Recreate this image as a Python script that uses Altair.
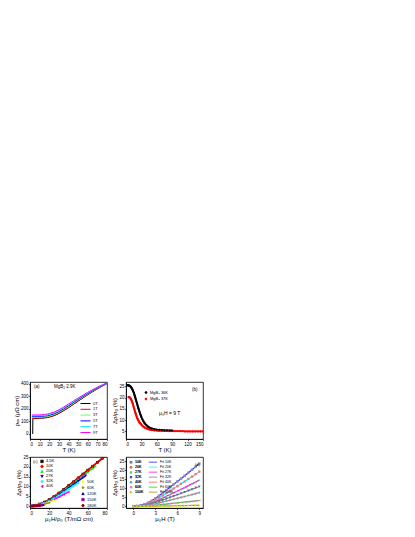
import altair as alt
import pandas as pd

FONT = "Liberation Sans"

# ---------------- panel (a): rho_xx vs T ----------------
a_fields = ["0T", "1T", "3T", "5T", "7T", "9T"]
a_colors = ["#000000", "#ff0000", "#66ff66", "#0000ff", "#00e5ff", "#ff00ff"]
a_widths = [1.0, 1.0, 2.0, 1.0, 1.0, 1.0]
a_xticks = [0, 10, 20, 30, 40, 50, 60, 70, 80]
a_yticks = [0, 100, 200, 300, 400]
a_T_0T = [2.8, 3, 5, 8, 10, 12, 15, 18, 20, 25, 30, 35, 40, 45, 50, 55, 60, 65, 70, 75, 80]
a_T = [2, 5, 8, 10, 12, 15, 18, 20, 25, 30, 35, 40, 45, 50, 55, 60, 65, 70, 75, 80]
a_rho_0T = [0, 124, 124, 124, 125, 126, 128, 131, 134, 146, 164, 186, 210, 236, 262, 288, 313, 337, 360, 382, 403]
a_rho_1T = [127, 127, 127, 128, 129, 131, 134, 137, 149, 167, 189, 213, 239, 265, 290, 315, 339, 362, 384, 404]
a_rho_3T = [133, 133, 133, 134, 135, 137, 140, 143, 155, 173, 195, 219, 244, 270, 295, 319, 342, 365, 386, 405]
a_rho_5T = [139, 139, 139, 140, 141, 143, 146, 149, 161, 179, 201, 225, 250, 275, 300, 323, 346, 368, 388, 406]
a_rho_7T = [145, 145, 145, 146, 147, 149, 152, 156, 168, 186, 208, 232, 256, 281, 305, 328, 350, 371, 390, 407]
a_rho_9T = [152, 152, 152, 153, 154, 156, 159, 163, 175, 193, 215, 239, 263, 287, 310, 333, 354, 374, 392, 408]

# ---------------- panel (b): MR at 9 T vs T ----------------
b_labels = ["MgB\u2082 36K", "MgB\u2082 37K"]
b_colors = ["#000000", "#ff0000"]
b_xticks = [0, 30, 60, 90, 120, 150]
b_yticks = [5, 10, 15, 20, 25]
b_T_36 = [2, 3, 4, 5, 6, 7, 8, 9, 10, 11, 12, 13, 14, 15, 16, 17, 18, 19, 20, 21, 22, 23, 24, 25, 26, 27, 28, 29, 30,
          32, 34, 36, 38, 40, 43, 46, 50, 55, 60, 65, 70, 75, 80, 85, 90]
b_mr_36 = [25.6, 25.6, 25.5, 25.5, 25.4, 25.3, 25.1, 24.9, 24.6, 24.3, 23.9, 23.4, 22.9, 22.3, 21.6, 20.9, 20.1, 19.3,
           18.5, 17.7, 16.9, 16.1, 15.3, 14.6, 13.9, 13.2, 12.5, 11.9, 11.3, 10.3, 9.4, 8.7, 8.1, 7.6, 7.0, 6.6, 6.2,
           5.9, 5.7, 5.6, 5.5, 5.4, 5.4, 5.3, 5.3]
b_T_37 = [5, 6, 7, 8, 9, 10, 11, 12, 13, 14, 15, 16, 17, 18, 19, 20, 21, 22, 23, 24, 25, 26, 27, 28, 29, 30,
          32, 34, 36, 38, 40, 43, 46, 50, 55, 60, 65, 70, 75, 80, 85, 90, 95, 100, 105, 110, 115, 120, 125, 130,
          135, 140, 145, 150]
b_mr_37 = [20.2, 20.2, 20.1, 19.9, 19.6, 19.2, 18.7, 18.1, 17.4, 16.6, 15.8, 15.0, 14.2, 13.4, 12.7, 12.0, 11.4, 10.8,
           10.3, 9.8, 9.4, 9.0, 8.7, 8.4, 8.1, 7.9, 7.4, 7.0, 6.7, 6.4, 6.2, 5.9, 5.7, 5.5, 5.4, 5.3, 5.2, 5.2, 5.1,
           5.1, 5.0, 5.0, 5.0, 5.0, 5.0, 5.0, 4.9, 4.9, 4.9, 4.9, 4.9, 4.9, 4.9, 4.9]

# ---------------- panel (c): Kohler plot ----------------
c_labels1 = ["4.5K", "10K", "20K", "27K", "32K", "40K"]
c_colors1 = ["#000000", "#ff0000", "#22dd22", "#0000ff", "#00ffff", "#ff00ff"]
c_shapes1 = ["square", "circle", "triangle-up", "triangle-down", "diamond", "triangle-left"]
c_labels2 = ["50K", "60K", "120K", "150K", "180K"]
c_colors2 = ["#ffff00", "#999900", "#000099", "#990099", "#990000"]
c_shapes2 = ["triangle-right", "diamond", "triangle-up", "square", "circle"]
c_xticks = [0, 20, 40, 60, 80]
c_yticks = [0, 5, 10, 15, 20, 25]
c_x_4p5 = [0, 3, 6, 10, 15, 20, 25, 30, 35, 40, 45, 50, 55, 60, 65, 70, 75, 78]
c_y_4p5 = [0, 0.1, 0.4, 1.0, 2.0, 3.3, 4.9, 6.6, 8.5, 10.4, 12.3, 14.3, 16.3, 18.3, 20.3, 22.3, 24.3, 25.4]
c_x_10 = [0, 3, 6, 10, 15, 20, 25, 30, 35, 40, 45, 50, 55, 60, 65, 70, 75, 78]
c_y_10 = [0, 0.1, 0.4, 1.0, 2.0, 3.3, 4.9, 6.6, 8.4, 10.3, 12.2, 14.2, 16.2, 18.2, 20.2, 22.2, 24.2, 25.3]
c_x_20 = [0, 3, 6, 10, 15, 20, 25, 30, 35, 40, 45, 50, 55, 60, 65, 68]
c_y_20 = [0, 0.1, 0.4, 0.9, 1.9, 3.1, 4.6, 6.2, 8.0, 9.8, 11.6, 13.5, 15.4, 17.3, 19.2, 20.3]
c_x_27 = [0, 3, 6, 10, 15, 20, 25, 30, 35, 40, 45, 50, 55, 58]
c_y_27 = [0, 0.1, 0.3, 0.9, 1.8, 2.9, 4.3, 5.8, 7.5, 9.2, 10.9, 12.7, 14.5, 15.5]
c_x_32 = [0, 3, 6, 10, 15, 20, 25, 30, 35, 40, 45, 50]
c_y_32 = [0, 0.1, 0.3, 0.8, 1.6, 2.7, 4.0, 5.4, 7.0, 8.6, 10.2, 11.8]
c_x_40 = [0, 3, 6, 10, 15, 20, 25, 30, 35, 40]
c_y_40 = [0, 0.1, 0.3, 0.7, 1.4, 2.3, 3.4, 4.6, 5.9, 7.2]
c_x_50 = [0, 3, 6, 10, 15, 20, 25]
c_y_50 = [0, 0.1, 0.2, 0.6, 1.2, 2.0, 2.9]
c_x_60 = [0, 3, 6, 10, 15, 20]
c_y_60 = [0, 0.1, 0.2, 0.5, 1.0, 1.7]
c_x_120 = [0, 3, 6, 10, 14]
c_y_120 = [0, 0.05, 0.15, 0.35, 0.6]
c_x_150 = [0, 3, 6, 9, 12]
c_y_150 = [0, 0.04, 0.12, 0.25, 0.4]
c_x_180 = [0, 2, 4, 6, 8, 10]
c_y_180 = [0, 0.02, 0.06, 0.12, 0.2, 0.3]

# ---------------- panel (d): MR vs field ----------------
d_labels = ["10K", "20K", "27K", "32K", "40K", "60K", "100K"]
d_colors = ["#9090c0", "#ff7070", "#60e060", "#5050c0", "#40c0c0", "#ff70ff", "#e0e000"]
d_shapes = ["square", "circle", "triangle-up", "triangle-down", "diamond", "triangle-left", "triangle-right"]
d_fit_labels = ["Fit 10K", "Fit 20K", "Fit 27K", "Fit 32K", "Fit 40K", "Fit 60K", "Fit 100K"]
d_fit_colors = ["#2222ff", "#00ffff", "#ff00ff", "#808080", "#ff6060", "#00dd00", "#999900"]
d_xticks = [0, 3, 6, 9]
d_yticks = [0, 5, 10, 15, 20, 25]
d_H = [0, 0.5, 1, 1.5, 2, 2.5, 3, 3.5, 4, 4.5, 5, 5.5, 6, 6.5, 7, 7.5, 8, 8.5, 9]
d_y_10 = [0, 0.15, 0.5, 1.1, 1.9, 3.0, 4.3, 5.8, 7.4, 9.0, 10.6, 12.2, 13.8, 15.4, 17.0, 18.7, 20.4, 22.1, 23.8]
d_y_20 = [0, 0.12, 0.4, 0.9, 1.55, 2.4, 3.5, 4.7, 6.0, 7.3, 8.6, 9.9, 11.2, 12.5, 13.8, 15.2, 16.5, 17.9, 19.3]
d_y_27 = [0, 0.09, 0.3, 0.67, 1.16, 1.84, 2.64, 3.56, 4.54, 5.52, 6.5, 7.48, 8.46, 9.44, 10.4, 11.5, 12.5, 13.5, 14.6]
d_y_32 = [0, 0.07, 0.23, 0.51, 0.88, 1.39, 1.99, 2.68, 3.42, 4.16, 4.9, 5.64, 6.38, 7.12, 7.85, 8.64, 9.42, 10.2, 11.0]
d_y_40 = [0, 0.05, 0.16, 0.35, 0.61, 0.96, 1.37, 1.85, 2.36, 2.87, 3.38, 3.89, 4.4, 4.91, 5.42, 5.97, 6.51, 7.05, 7.6]
d_y_60 = [0, 0.02, 0.07, 0.15, 0.25, 0.4, 0.58, 0.78, 0.99, 1.21, 1.42, 1.64, 1.85, 2.07, 2.28, 2.51, 2.74, 2.97, 3.2]
d_y_100 = [0, 0, 0.01, 0.02, 0.04, 0.06, 0.09, 0.12, 0.15, 0.19, 0.22, 0.26, 0.29, 0.32, 0.36, 0.39, 0.43, 0.46, 0.5]

# ---------------- build tables ----------------
def long_table(names, xs, ys, xname, yname):
    rows = []
    for n, xv, yv in zip(names, xs, ys):
        for i, (a, b) in enumerate(zip(xv, yv)):
            rows.append({"series": n, xname: a, yname: b, "i": i})
    return pd.DataFrame(rows)

df_a = long_table(a_fields,
                  [a_T_0T, a_T, a_T, a_T, a_T, a_T],
                  [a_rho_0T, a_rho_1T, a_rho_3T, a_rho_5T, a_rho_7T, a_rho_9T], "T", "rho")
df_b = long_table(b_labels, [b_T_36, b_T_37], [b_mr_36, b_mr_37], "T", "mr")
df_c1 = long_table(c_labels1, [c_x_4p5, c_x_10, c_x_20, c_x_27, c_x_32, c_x_40],
                   [c_y_4p5, c_y_10, c_y_20, c_y_27, c_y_32, c_y_40], "x", "y")
df_c2 = long_table(c_labels2, [c_x_50, c_x_60, c_x_120, c_x_150, c_x_180],
                   [c_y_50, c_y_60, c_y_120, c_y_150, c_y_180], "x", "y")
d_all = [d_y_10, d_y_20, d_y_27, d_y_32, d_y_40, d_y_60, d_y_100]
df_d = long_table(d_labels, [d_H] * 7, d_all, "H", "y")
df_dfit = long_table(d_fit_labels, [d_H] * 7, d_all, "H", "y")

W, H1, H2 = 77, 57, 51
LBL = 4.0


def leg(x, y, stype=None, ssize=6, clip=5, rowpad=0.0, lsize=LBL):
    kw = dict(orient="none", legendX=x, legendY=y, title=None, labelFontSize=lsize,
              labelFont=FONT, symbolSize=ssize, rowPadding=rowpad, labelOffset=2,
              padding=0, symbolStrokeWidth=0.8, labelLimit=60, labelColor="black",
              clipHeight=clip)
    if stype:
        kw["symbolType"] = stype
    return alt.Legend(**kw)


def note(txt, x, y, size=4.5, align="left"):
    return alt.Chart(pd.DataFrame({"t": [txt]})).mark_text(
        font=FONT, fontSize=size, align=align, baseline="middle", color="black"
    ).encode(x=alt.value(x), y=alt.value(y), text="t:N")


# panel (a)
xa = alt.X("T:Q", scale=alt.Scale(domain=[0, 80], nice=False),
           axis=alt.Axis(values=a_xticks, title="T (K)"))
ya = alt.Y("rho:Q", scale=alt.Scale(domain=[-40, 415], nice=False, zero=False),
           axis=alt.Axis(values=a_yticks, title="\u03c1\u2093\u2093 (\u03bc\u03a9 cm)"))
panel_a = alt.layer(
    alt.Chart(df_a).mark_line(clip=True).encode(
        x=xa, y=ya, order="i:Q",
        color=alt.Color("series:N", scale=alt.Scale(domain=a_fields, range=a_colors),
                        legend=leg(50, 19, "stroke", 100, 5, 0.8)),
        strokeWidth=alt.StrokeWidth("series:N", scale=alt.Scale(domain=a_fields, range=a_widths), legend=None),
    ),
    note("(a)", 4, 5),
    note("MgB\u2082 2.9K", 24, 5),
).properties(width=W, height=H1)

# panel (b)
xb = alt.X("T:Q", scale=alt.Scale(domain=[0, 150], nice=False),
           axis=alt.Axis(values=b_xticks, title="T (K)"))
yb = alt.Y("mr:Q", scale=alt.Scale(domain=[1.5, 27], nice=False, zero=False),
           axis=alt.Axis(values=b_yticks, title="\u0394\u03c1/\u03c1\u2080 (%)"))
panel_b = alt.layer(
    alt.Chart(df_b).mark_line(clip=True, strokeWidth=1.8,
                              point=alt.OverlayMarkDef(filled=True, size=5)).encode(
        x=xb, y=yb, order="i:Q",
        color=alt.Color("series:N", scale=alt.Scale(domain=b_labels, range=b_colors),
                        legend=leg(18, 8, "circle", 4, 5, 1.5)),
    ),
    note("(b)", 66, 8),
    note("\u03bc\u2080H = 9 T", 33, 31, 5),
).properties(width=W, height=H1)

# panel (c)
xc = alt.X("x:Q", scale=alt.Scale(domain=[0, 80], nice=False),
           axis=alt.Axis(values=c_xticks, title="\u03bc\u2080H/\u03c1\u2080 (T/m\u03a9 cm)"))
yc = alt.Y("y:Q", scale=alt.Scale(domain=[-1, 25], nice=False, zero=False),
           axis=alt.Axis(values=c_yticks, title="\u0394\u03c1/\u03c1\u2080 (%)"))


def kohler_group(df, labels, colors, shapes, lx, ly, clip):
    cs = alt.Scale(domain=labels, range=colors)
    ss = alt.Scale(domain=labels, range=shapes)
    lg = leg(lx, ly, None, 6, clip, 0.0)
    return alt.layer(
        alt.Chart(df).mark_line(clip=True, strokeWidth=1.5).encode(
            x=xc, y=yc, order="i:Q", color=alt.Color("series:N", scale=cs, legend=lg)),
        alt.Chart(df).mark_point(clip=True, filled=True, size=7, opacity=1).encode(
            x=xc, y=yc, color=alt.Color("series:N", scale=cs, legend=lg),
            shape=alt.Shape("series:N", scale=ss, legend=lg)),
    )


panel_c = alt.layer(
    kohler_group(df_c1, c_labels1, c_colors1, c_shapes1, 10, 2, 4.8),
    kohler_group(df_c2, c_labels2, c_colors2, c_shapes2, 51, 22, 5.2),
    note("(c)", 3, 5, 4),
).resolve_scale(color="independent", shape="independent").properties(width=W, height=H2)

# panel (d)
xd = alt.X("H:Q", scale=alt.Scale(domain=[-1, 9.5], nice=False, zero=False),
           axis=alt.Axis(values=d_xticks, title="\u03bc\u2080H (T)"))
yd = alt.Y("y:Q", scale=alt.Scale(domain=[-1, 27.5], nice=False, zero=False),
           axis=alt.Axis(values=d_yticks, title="\u0394\u03c1/\u03c1\u2080 (%)"))
dcs = alt.Scale(domain=d_labels, range=d_colors)
dss = alt.Scale(domain=d_labels, range=d_shapes)
dlg = leg(3, 3, None, 6, 4.3, 0.0, 3.6)
panel_d = alt.layer(
    alt.Chart(df_dfit).mark_line(clip=True, strokeWidth=1.2).encode(
        x=xd, y=yd, order="i:Q",
        color=alt.Color("series:N", scale=alt.Scale(domain=d_fit_labels, range=d_fit_colors),
                        legend=leg(22, 3, "stroke", 70, 4.3, 0.0, 3.6))),
    alt.Chart(df_d).mark_point(clip=True, filled=True, size=7, opacity=0.9).encode(
        x=xd, y=yd, color=alt.Color("series:N", scale=dcs, legend=dlg),
        shape=alt.Shape("series:N", scale=dss, legend=dlg)),
    note("(d)", 69, 8, 4),
).resolve_scale(color="independent").properties(width=W, height=H2)

top = alt.hconcat(panel_a, panel_b, spacing=3).resolve_scale(
    color="independent", strokeWidth="independent")
bottom = alt.hconcat(panel_c, panel_d, spacing=3).resolve_scale(
    color="independent", shape="independent")
chart = alt.vconcat(top, bottom, spacing=0).resolve_scale(
    color="independent", shape="independent", strokeWidth="independent"
).properties(
    padding={"left": 5, "top": 372, "right": 5, "bottom": 2},
    background="white",
).configure_axis(
    labelFont=FONT, titleFont=FONT, labelFontSize=4.5, titleFontSize=6, titleFontWeight="normal",
    tickSize=1.5, tickWidth=0.6, tickColor="black", domainColor="black", domainWidth=0.8,
    labelColor="black", titleColor="black", grid=False, labelPadding=0.5, titlePadding=1,
).configure_view(stroke="black", strokeWidth=0.8)

chart.save("out.html", embed_options={"renderer": "svg", "actions": False})
